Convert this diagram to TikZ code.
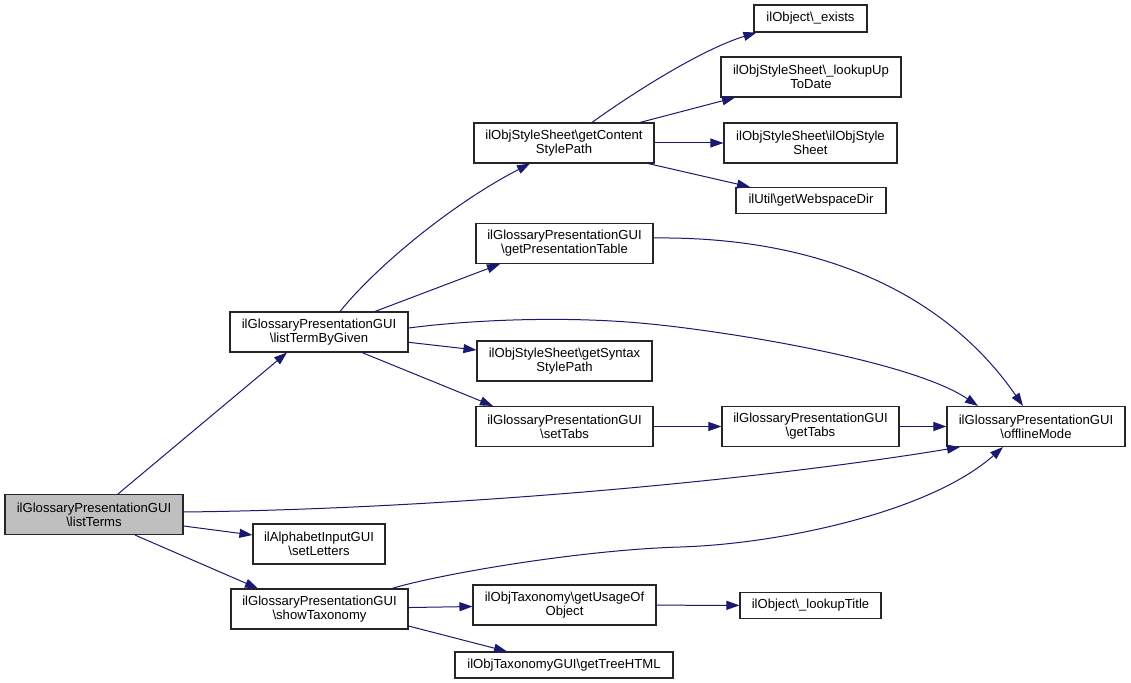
\documentclass[tikz,border=0pt]{standalone}
\usepackage{fontspec}
\newfontfamily\dox{Liberation Sans}
\usetikzlibrary{arrows.meta}
\definecolor{edgeblue}{RGB}{25,25,112}
\definecolor{callerfill}{RGB}{191,191,191}
\begin{document}
\begin{tikzpicture}[x=1bp,y=-1bp,
  box/.style={draw=black!85, line width=1.1bp, fill=white, inner sep=0pt, align=center,
    font={\dox\fontsize{13.1bp}{14bp}\selectfont}},
  two/.style={box, minimum height=40bp},
  one/.style={box, minimum height=26bp},
  edge/.style={draw=edgeblue, line width=1bp, -{Triangle[length=13bp,width=9bp]}}]
\useasboundingbox[fill=white] (0,0) rectangle (1131,683);

% nodes
\node[two, fill=callerfill, minimum width=178bp] (listTerms) at (94,514.5) {ilGlossaryPresentationGUI\\\textbackslash listTerms};
\node[two, minimum width=178bp] (listTermByGiven) at (319,332) {ilGlossaryPresentationGUI\\\textbackslash listTermByGiven};
\node[two, minimum width=132bp] (setLetters) at (319,544) {ilAlphabetInputGUI\\\textbackslash setLetters};
\node[two, minimum width=177bp] (showTaxonomy) at (319.5,609) {ilGlossaryPresentationGUI\\\textbackslash showTaxonomy};
\node[two, minimum width=180bp] (gcsp) at (564,143) {ilObjStyleSheet\textbackslash getContent\\StylePath};
\node[two, minimum width=177bp] (gpt) at (564.5,243.5) {ilGlossaryPresentationGUI\\\textbackslash getPresentationTable};
\node[two, minimum width=175bp] (gssp) at (564.5,361) {ilObjStyleSheet\textbackslash getSyntax\\StylePath};
\node[two, minimum width=177bp] (setTabs) at (564.5,426.5) {ilGlossaryPresentationGUI\\\textbackslash setTabs};
\node[two, minimum width=183bp] (guo) at (564.5,605) {ilObjTaxonomy\textbackslash getUsageOf\\Object};
\node[one, minimum width=218bp] (gth) at (564,665) {ilObjTaxonomyGUI\textbackslash getTreeHTML};
\node[one, minimum width=113bp, minimum height=27bp] (exists) at (810.5,18.5) {ilObject\textbackslash\_exists};
\node[two, minimum width=180bp] (luu) at (811,77) {ilObjStyleSheet\textbackslash\_lookupUp\\ToDate};
\node[two, minimum width=173bp] (oss) at (810.5,143) {ilObjStyleSheet\textbackslash ilObjStyle\\Sheet};
\node[one, minimum width=150bp] (webspace) at (811,200.5) {ilUtil\textbackslash getWebspaceDir};
\node[two, minimum width=177bp] (getTabs) at (810.5,426.5) {ilGlossaryPresentationGUI\\\textbackslash getTabs};
\node[two, minimum width=178bp] (offlineMode) at (1036,426.5) {ilGlossaryPresentationGUI\\\textbackslash offlineMode};
\node[one, minimum width=141bp] (lookupTitle) at (810.5,605.5) {ilObject\textbackslash\_lookupTitle};

% edges from listTerms
\draw[edge] ([xshift=24bp]listTerms.north) -- ([xshift=-32bp]listTermByGiven.south);
\draw[edge] ([yshift=-11.5bp]listTerms.east) -- ([yshift=9bp]setLetters.west);
\draw[edge] ([xshift=41bp]listTerms.south) -- ([xshift=-61.5bp]showTaxonomy.north);
\draw[edge] ([yshift=2.5bp]listTerms.east) .. controls (450,509) and (760,480) .. ([xshift=-76bp]offlineMode.south);

% edges from listTermByGiven
\draw[edge] ([xshift=21bp]listTermByGiven.north) .. controls (375,268) and (450,205) .. ([xshift=-34bp]gcsp.south);
\draw[edge] ([xshift=56bp]listTermByGiven.north) -- ([xshift=-64.5bp]gpt.south);
\draw[edge] ([yshift=4bp]listTermByGiven.east) .. controls (470,320) and (560,316) .. (640,323)
  .. controls (720,330) and (910,360) .. ([xshift=-58bp]offlineMode.north);
\draw[edge] ([yshift=-10.3bp]listTermByGiven.east) -- ([yshift=11bp]gssp.west);
\draw[edge] ([xshift=43bp]listTermByGiven.south) -- ([xshift=-71.5bp]setTabs.north);

% edges from getContentStylePath
\draw[edge] ([xshift=28bp]gcsp.north) .. controls (630,95) and (700,50) .. ([xshift=3bp]exists.south west);
\draw[edge] ([xshift=76bp]gcsp.north) -- ([xshift=-76bp]luu.south);
\draw[edge] (gcsp) -- (oss);
\draw[edge] ([xshift=84bp]gcsp.south) -- ([xshift=-61bp]webspace.north);

% others
\draw[edge] ([yshift=5.5bp]gpt.east) .. controls (830,236) and (950,300) .. ([xshift=-13bp]offlineMode.north);
\draw[edge] (setTabs) -- (getTabs);
\draw[edge] (getTabs) -- (offlineMode);
\draw[edge] ([xshift=72.5bp]showTaxonomy.north) .. controls (440,574) and (580,550) .. (680,547)
  .. controls (780,544) and (930,512) .. ([xshift=-33bp]offlineMode.south);
\draw[edge] (showTaxonomy) -- (guo);
\draw[edge] ([yshift=-17bp]showTaxonomy.east) -- ([xshift=-57bp]gth.north);
\draw[edge] (guo) -- (lookupTitle);
\end{tikzpicture}
\end{document}
